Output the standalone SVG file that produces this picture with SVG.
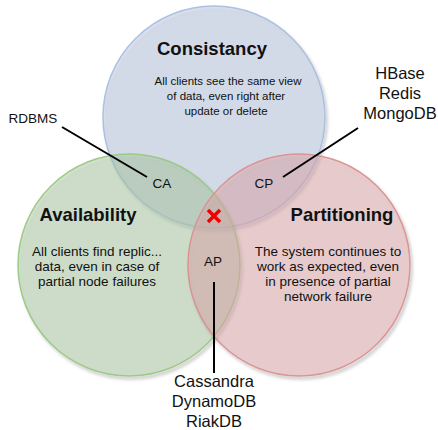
<svg xmlns="http://www.w3.org/2000/svg" width="438" height="430" viewBox="0 0 438 430">
<defs>
<filter id="sh" x="-10%" y="-10%" width="125%" height="125%">
<feDropShadow dx="2" dy="3" stdDeviation="1.5" flood-color="#000" flood-opacity="0.25"/>
</filter>
<style>
text{font-family:"Liberation Sans",Arial,Helvetica,sans-serif;fill:#111;text-anchor:middle}
.t{font-size:18.5px;font-weight:bold}
.b{font-size:13.5px}
.s{font-size:11.5px}
.db{font-size:16.5px}
.c{stroke-width:1.5;fill-opacity:0.5;stroke-opacity:0.9}
.ln{stroke:#000;stroke-width:2;fill:none}
</style>
</defs>
<rect width="438" height="430" fill="#fff"/>
<g id="consistency" filter="url(#sh)">
<circle class="c" cx="214" cy="117" r="111" fill="#bbc7df" stroke="#a3bde0"/>
</g>
<g id="availability" filter="url(#sh)">
<circle class="c" cx="129" cy="265" r="111" fill="#adcba7" stroke="#97c67e"/>
</g>
<g id="partitioning" filter="url(#sh)">
<circle class="c" cx="299" cy="265" r="111" fill="#dfabad" stroke="#d98e8e"/>
</g>
<g id="consistency-text">
<text class="t" x="212" y="55">Consistancy</text>
<text class="s" x="228" y="85">All clients see the same view</text>
<text class="s" x="226" y="100">of data, even right after</text>
<text class="s" x="226" y="115">update or delete</text>
</g>
<g id="availability-text">
<text class="t" x="88" y="221">Availability</text>
<text class="b" x="97" y="256">All clients find replic...</text>
<text class="b" x="97" y="271">data, even in case of</text>
<text class="b" x="97" y="286">partial node failures</text>
</g>
<g id="partitioning-text">
<text class="t" x="342" y="221">Partitioning</text>
<text class="b" x="328" y="256">The system continues to</text>
<text class="b" x="328" y="271">work as expected, even</text>
<text class="b" x="328" y="286">in presence of partial</text>
<text class="b" x="328" y="301">network failure</text>
</g>
<g id="ca"><text class="b" x="162" y="188">CA</text></g>
<g id="cp"><text class="b" x="264" y="188">CP</text></g>
<g id="ap"><text class="b" x="213" y="266">AP</text></g>
<g id="cross">
<path d="M208,210 L220,222 M220,210 L208,222" stroke="#ee0000" stroke-width="3.5" fill="none"/>
</g>
<g id="rdbms"><text class="b" x="33" y="123">RDBMS</text></g>
<g id="cp-dbs">
<text class="db" x="400" y="79">HBase</text>
<text class="db" x="400" y="99">Redis</text>
<text class="db" x="400" y="119">MongoDB</text>
</g>
<g id="ap-dbs">
<text class="db" x="214" y="387">Cassandra</text>
<text class="db" x="214" y="407">DynamoDB</text>
<text class="db" x="214" y="427">RiakDB</text>
</g>
<g id="connectors">
<line class="ln" x1="62" y1="127" x2="147" y2="177"/>
<line class="ln" x1="358" y1="128" x2="283" y2="177"/>
<line class="ln" x1="214" y1="282" x2="214" y2="373"/>
</g>
</svg>
